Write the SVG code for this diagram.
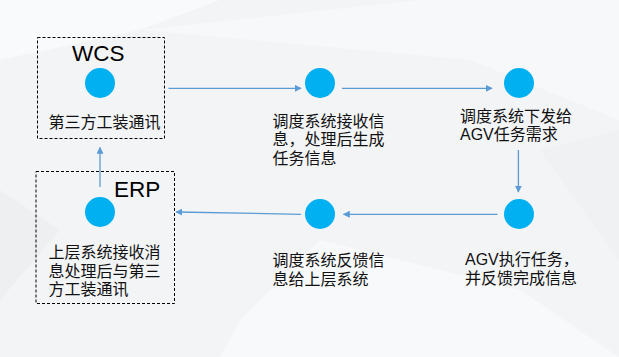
<svg xmlns="http://www.w3.org/2000/svg" width="619" height="357" viewBox="0 0 619 357">
<defs>
<marker id="ah" viewBox="0 0 10 10" refX="9" refY="5" markerWidth="7" markerHeight="7" markerUnits="userSpaceOnUse" orient="auto">
<path d="M0,0 L10,5 L0,10 Z" fill="#5B9BD5"/>
</marker>
</defs>
<style>
.dot{fill:#00B0F0}
.box{fill:none;stroke:#000;stroke-width:1;stroke-dasharray:3,2}
.cn{font-family:"Noto Sans CJK SC","Noto Sans",sans-serif;font-size:16px;fill:#111}
.ttl{font-family:"Liberation Sans",Arial,sans-serif;font-size:22.5px;fill:#000}
.lat{font-family:"Liberation Sans",Arial,sans-serif}
.conn{stroke:#5B9BD5;stroke-width:1.3;fill:none;marker-end:url(#ah)}
</style>
<rect width="619" height="357" fill="#f3f4f6"/>
<polygon points="0,0 220,0 140,30 0,60" fill="#ffffff" opacity="0.5"/>
<polygon points="140,30 420,0 619,0 619,120 470,60" fill="#ffffff" opacity="0.35"/>
<polygon points="0,190 60,230 0,300" fill="#e9ebee" opacity="0.6"/>
<polygon points="240,320 320,240 520,290 619,357 220,357" fill="#ffffff" opacity="0.45"/>
<polygon points="540,150 619,130 619,260" fill="#ebedf0" opacity="0.5"/>
<g id="wcs">
<rect class="box" x="37.5" y="37.5" width="127" height="101"/>
<text class="ttl" x="72" y="60.5">WCS</text>
<circle class="dot" cx="100" cy="83" r="15"/>
<text class="cn" x="48.5" y="127.5">第三方工装通讯</text>
</g>
<g id="n2">
<circle class="dot" cx="320" cy="83" r="15"/>
<text class="cn" x="272.5" y="126.5">调度系统接收信<tspan x="272.5" dy="18.5">息，处理后生成</tspan><tspan x="272.5" dy="18.5">任务信息</tspan></text>
</g>
<g id="n3">
<circle class="dot" cx="519" cy="83" r="15"/>
<text class="cn" x="460" y="121.5">调度系统下发给<tspan x="460" dy="18.5" class="lat">AGV</tspan><tspan>任务需求</tspan></text>
</g>
<g id="n4">
<circle class="dot" cx="519" cy="214" r="15"/>
<text class="cn" x="465" y="265"><tspan class="lat">AGV</tspan>执行任务，<tspan x="465" dy="19">并反馈完成信息</tspan></text>
</g>
<g id="n5">
<circle class="dot" cx="320" cy="214" r="15"/>
<text class="cn" x="272.5" y="266">调度系统反馈信<tspan x="272.5" dy="18.5">息给上层系统</tspan></text>
</g>
<g id="erp">
<rect class="box" x="36" y="171.5" width="138.5" height="132"/>
<text class="ttl" x="114" y="196.5">ERP</text>
<circle class="dot" cx="100" cy="212" r="15"/>
<text class="cn" x="48.5" y="258">上层系统接收消<tspan x="48.5" dy="18.5">息处理后与第三</tspan><tspan x="48.5" dy="18.5">方工装通讯</tspan></text>
</g>
<g id="connectors">
<line class="conn" x1="168.5" y1="88.3" x2="301" y2="88.3"/>
<line class="conn" x1="342" y1="88.3" x2="492" y2="88.3"/>
<line class="conn" x1="518.4" y1="150" x2="518.4" y2="192"/>
<line class="conn" x1="497.5" y1="214.3" x2="343.5" y2="214.3"/>
<line class="conn" x1="301" y1="214.3" x2="176" y2="212"/>
<line class="conn" x1="100" y1="187" x2="100" y2="147.5"/>
</g>
</svg>
